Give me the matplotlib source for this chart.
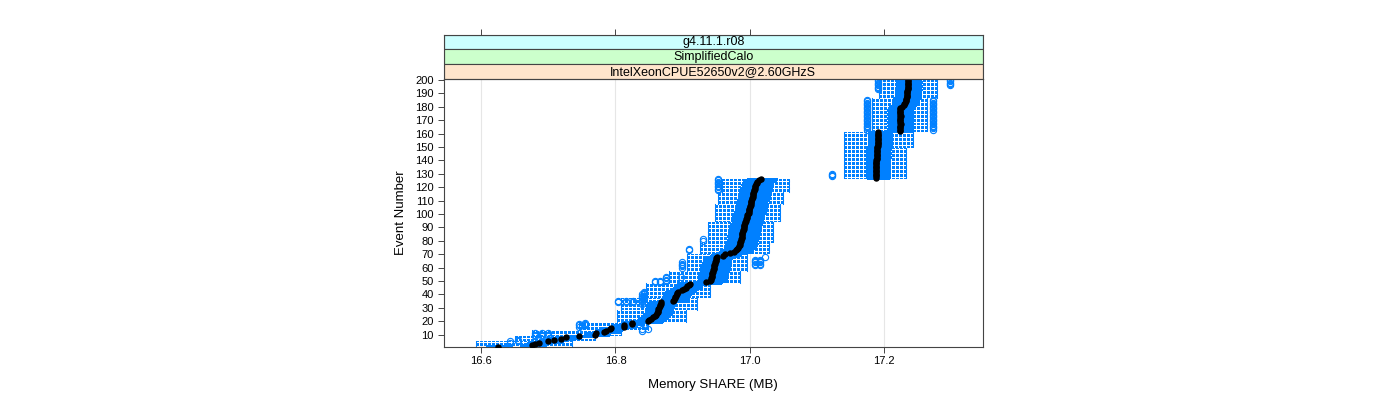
import numpy as np
import matplotlib
matplotlib.use('Agg')
import matplotlib.pyplot as plt
from matplotlib.patches import Rectangle

# Event numbers 1..200 and the median memory (black dots)
events = list(range(1, 201))
medians = [
    16.625, 16.675, 16.680, 16.686, 16.700, 16.709, 16.719, 16.727, 16.745, 16.770,
    16.771, 16.783, 16.786, 16.792, 16.793, 16.812, 16.813, 16.824, 16.825, 16.849,
    16.850, 16.853, 16.856, 16.859, 16.861, 16.862, 16.863, 16.864, 16.864, 16.865,
    16.866, 16.866, 16.867, 16.868, 16.886, 16.887, 16.888, 16.889, 16.890, 16.891,
    16.892, 16.893, 16.899, 16.902, 16.905, 16.907, 16.909, 16.911, 16.935, 16.941,
    16.942, 16.942, 16.943, 16.943, 16.944, 16.944, 16.945, 16.945, 16.946, 16.946,
    16.947, 16.947, 16.948, 16.948, 16.949, 16.949, 16.950, 16.951, 16.960, 16.963,
    16.971, 16.976, 16.979, 16.981, 16.983, 16.984, 16.985, 16.986, 16.986, 16.987,
    16.987, 16.988, 16.988, 16.988, 16.989, 16.989, 16.990, 16.990, 16.991, 16.991,
    16.992, 16.992, 16.993, 16.993, 16.994, 16.994, 16.995, 16.995, 16.996, 16.997,
    16.998, 16.998, 16.999, 16.999, 17.000, 17.000, 17.001, 17.001, 17.002, 17.002,
    17.003, 17.003, 17.004, 17.004, 17.005, 17.005, 17.006, 17.006, 17.007, 17.008,
    17.008, 17.009, 17.010, 17.011, 17.013, 17.016, 17.188, 17.188, 17.188, 17.188,
    17.188, 17.188, 17.188, 17.188, 17.188, 17.188, 17.188, 17.188, 17.188, 17.188,
    17.189, 17.189, 17.189, 17.189, 17.189, 17.189, 17.189, 17.189, 17.189, 17.189,
    17.191, 17.191, 17.191, 17.191, 17.191, 17.191, 17.191, 17.191, 17.191, 17.191,
    17.191, 17.224, 17.224, 17.223, 17.224, 17.224, 17.225, 17.224, 17.224, 17.223,
    17.224, 17.224, 17.225, 17.224, 17.224, 17.224, 17.224, 17.224, 17.224, 17.227,
    17.229, 17.230, 17.231, 17.233, 17.233, 17.233, 17.234, 17.234, 17.234, 17.234,
    17.234, 17.234, 17.235, 17.235, 17.235, 17.235, 17.235, 17.235, 17.235, 17.235,
]

# groups of events sharing the same whisker ends
block_first = [1, 6, 10, 14, 20, 29, 38, 49, 58, 71, 79, 95, 108, 117, 127, 150, 162, 187]
block_last = [5, 9, 13, 19, 28, 37, 48, 57, 70, 78, 94, 107, 116, 126, 149, 161, 186, 200]
whisk_lo = [16.592, 16.650, 16.675, 16.745, 16.802, 16.808, 16.845, 16.880, 16.906,
            16.926, 16.938, 16.948, 16.953, 16.958, 17.140, 17.140, 17.182, 17.192]
whisk_hi = [16.735, 16.770, 16.808, 16.848, 16.905, 16.921, 16.940, 16.985, 16.995,
            17.028, 17.035, 17.045, 17.050, 17.058, 17.233, 17.243, 17.263, 17.278]
box_below = [0.016, 0.016, 0.015, 0.016, 0.018, 0.018, 0.018, 0.018, 0.018,
             0.020, 0.020, 0.020, 0.020, 0.020, 0.014, 0.014, 0.018, 0.016]
box_above = [0.020, 0.020, 0.020, 0.018, 0.020, 0.020, 0.020, 0.022, 0.022,
             0.024, 0.024, 0.024, 0.024, 0.024, 0.019, 0.019, 0.017, 0.019]

# outlier circles: first event, last event, value
out_first = [4, 5, 9, 9, 9, 16, 17, 13, 14, 34, 34, 34, 33, 37, 49, 49, 50, 53, 60, 73,
             80, 62, 62, 68, 118, 128, 163, 163, 193, 196]
out_last = [5, 6, 11, 11, 11, 18, 19, 14, 14, 35, 35, 35, 40, 42, 50, 50, 53, 53, 64, 74,
            81, 66, 66, 68, 126, 130, 185, 185, 200, 200]
out_value = [16.643, 16.655, 16.680, 16.690, 16.700, 16.745, 16.755, 16.840, 16.849,
             16.804, 16.815, 16.826, 16.839, 16.842, 16.859, 16.866, 16.875, 16.897,
             16.899, 16.910, 16.930, 17.008, 17.015, 17.023, 16.952, 17.122, 17.174,
             17.273, 17.190, 17.298]

strip_labels = ['g4.11.1.r08', 'SimplifiedCalo', 'IntelXeonCPUE52650v2@2.60GHzS']
strip_colors = ['#ccffff', '#ccffcc', '#ffe5cc']
x_ticks = [16.6, 16.8, 17.0, 17.2]
y_ticks = list(range(10, 201, 10))

blue = '#0080ff'
plt.rcParams['font.family'] = ['Liberation Sans', 'DejaVu Sans']

W, H = 1400, 400
L, R, T, B = 443.5, 983, 79, 346.7
fig = plt.figure(figsize=(14, 4), dpi=100)
ax = fig.add_axes([L / W, 1 - B / H, (R - L) / W, (B - T) / H])

half = 0.25
for k in range(len(block_first)):
    for e in range(block_first[k], block_last[k] + 1):
        med = medians[e - 1]
        lo, hi = whisk_lo[k], whisk_hi[k]
        q1 = max(med - box_below[k], lo)
        q3 = min(med + box_above[k], hi)
        ax.add_patch(Rectangle((q1, e - half), q3 - q1, 2 * half, fill=False,
                               ec=blue, lw=0.8, zorder=3, antialiased=False))
        ax.plot([lo, q1], [e, e], color=blue, lw=0.75, ls=(0, (2.2, 1.4)), zorder=3,
                antialiased=False)
        ax.plot([hi, q3], [e, e], color=blue, lw=0.75, ls=(0, (2.2, 1.4)), zorder=3,
                antialiased=False)
        ax.plot([lo, lo], [e - half, e + half], color=blue, lw=0.75, zorder=3)
        ax.plot([hi, hi], [e - half, e + half], color=blue, lw=0.75, zorder=3)

for f, l, v in zip(out_first, out_last, out_value):
    ys = list(range(f, l + 1))
    ax.plot([v] * len(ys), ys, 'o', mfc='none', mec=blue, ms=4.5, mew=0.8, zorder=4)

ax.plot(medians, events, 'o', color='black', ms=3.6, zorder=5)

ax.set_xlim(16.544, 17.347)
ax.set_ylim(1, 200.7)
ax.set_xticks(x_ticks)
ax.set_xticklabels([f'{t:.1f}' for t in x_ticks])
ax.set_yticks(y_ticks)
ax.grid(axis='x', color='#e6e6e6', lw=0.8, zorder=0)
ax.set_axisbelow(True)
ax.tick_params(labelsize=8, length=4, width=0.7, color='#444444', pad=3)
for s in ax.spines.values():
    s.set_color('#444444')
    s.set_linewidth(0.8)
ax.set_xlabel('Memory SHARE (MB)', fontsize=9.5, labelpad=9)
ax.set_ylabel('Event Number', fontsize=9.5, labelpad=6)

# strips on top of the panel
sax = fig.add_axes([L / W, 1 - T / H, (R - L) / W, (T - 34.6) / H])
sax.set_xlim(16.544, 17.347)
sax.set_ylim(0, 3)
for i, (lab, col) in enumerate(zip(strip_labels, strip_colors)):
    y0 = 2 - i
    sax.add_patch(Rectangle((16.544, y0), 17.347 - 16.544, 1, fc=col, ec='#444444', lw=0.8))
    sax.text((16.544 + 17.347) / 2, y0 + 0.5, lab, ha='center', va='center', fontsize=9)
sax.set_xticks(x_ticks)
sax.set_yticks([])
sax.tick_params(axis='x', top=True, bottom=False, labeltop=False, labelbottom=False,
                length=4, width=0.7, color='#444444')
for s in sax.spines.values():
    s.set_color('#444444')
    s.set_linewidth(0.8)

fig.savefig('out.png', dpi=100)
